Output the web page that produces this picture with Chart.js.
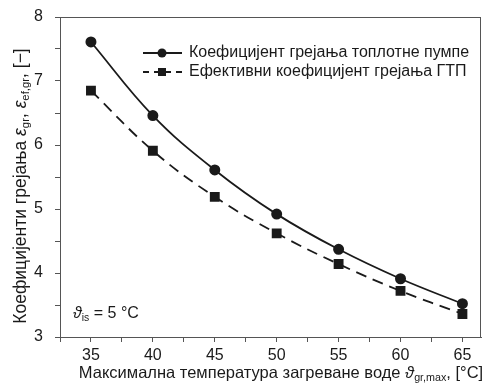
<!DOCTYPE html>
<html>
<head>
<meta charset="utf-8">
<script src="https://cdn.jsdelivr.net/npm/chart.js@4"></script>
<style>
    html, body { margin: 0; padding: 0; background: #fff; }
    #wrap { width: 490px; height: 389px; position: relative; }
</style>
</head>
<body>
<div id="wrap"><canvas id="copChart" width="490" height="389"></canvas></div>
<script>
// Podaci očitani sa slike
const temperatures = [35, 40, 45, 50, 55, 60, 65];
const heatPumpCop = [7.61, 6.46, 5.61, 4.92, 4.37, 3.91, 3.52];
const effectiveCop = [6.85, 5.91, 5.19, 4.62, 4.14, 3.72, 3.36];
const seriesLabels = ['Коефицијент грејања топлотне пумпе', 'Ефективни коефицијент грејања ГТП'];

const FONT = '"Liberation Sans", Arial, sans-serif';
const INK = '#1a1a1a';

// crta tekst sa indeksima (segmenti: t, it, sub)
function richWidth(ctx, parts, size) {
    let w = 0;
    parts.forEach(function (p) {
        const s = p.sub ? size * 0.65 : size;
        ctx.font = (p.it ? 'italic ' : '') + s + 'px ' + FONT;
        w += ctx.measureText(p.t).width;
    });
    return w;
}
function drawRich(ctx, parts, x, y, size) {
    parts.forEach(function (p) {
        const s = p.sub ? size * 0.65 : size;
        ctx.font = (p.it ? 'italic ' : '') + s + 'px ' + FONT;
        ctx.fillText(p.t, x, p.sub ? y + size * 0.28 : y);
        x += ctx.measureText(p.t).width;
    });
}

const xTitle = [
    { t: 'Максимална температура загреване воде ' },
    { t: 'ϑ', it: true },
    { t: 'gr,max', sub: true },
    { t: ', [°C]' },
];
const yTitle = [
    { t: 'Коефицијенти грејања ' },
    { t: 'ε', it: true },
    { t: 'gr', sub: true },
    { t: ', ' },
    { t: 'ε', it: true },
    { t: 'ef,gr', sub: true },
    { t: ', [−]' },
];
const note = [
    { t: 'ϑ', it: true },
    { t: 'is', sub: true },
    { t: ' = 5 °C' },
];

const decorPlugin = {
    id: 'decor',
    afterDraw: function (chart) {
        const ctx = chart.ctx;
        const a = chart.chartArea;
        ctx.save();
        // okvir
        ctx.strokeStyle = '#555';
        ctx.lineWidth = 1;
        ctx.strokeRect(a.left + 0.5, a.top + 0.5, a.right - a.left - 1, a.bottom - a.top);

        ctx.fillStyle = INK;
        ctx.textBaseline = 'middle';
        ctx.textAlign = 'left';

        // naslov x ose
        const xs = 16.5;
        const xw = richWidth(ctx, xTitle, xs);
        drawRich(ctx, xTitle, 281 - xw / 2, 373, xs);

        // naslov y ose
        const ys = 17.5;
        const yw = richWidth(ctx, yTitle, ys);
        ctx.save();
        ctx.translate(21, 186);
        ctx.rotate(-Math.PI / 2);
        drawRich(ctx, yTitle, -yw / 2, 0, ys);
        ctx.restore();

        // napomena
        drawRich(ctx, note, 73, 314, 16);

        // legenda
        const ds = chart.data.datasets;
        const rows = [53, 72];
        ds.forEach(function (d, i) {
            const y = rows[i];
            ctx.save();
            ctx.strokeStyle = d.borderColor;
            ctx.lineWidth = d.borderWidth;
            ctx.setLineDash(d.borderDash ? [6, 5] : []);
            ctx.beginPath();
            ctx.moveTo(143, y);
            ctx.lineTo(182, y);
            ctx.stroke();
            ctx.restore();
            ctx.fillStyle = INK;
            if (d.pointStyle === 'rect') {
                ctx.fillRect(158, y - 4, 8, 8);
            } else {
                ctx.beginPath();
                ctx.arc(162, y, 4.5, 0, Math.PI * 2);
                ctx.fill();
            }
            ctx.font = '16px ' + FONT;
            ctx.fillText(d.label, 189, y);
        });
        ctx.restore();
    },
};

new Chart(document.getElementById('copChart'), {
    type: 'line',
    data: {
        datasets: [
            {
                label: seriesLabels[0],
                data: temperatures.map(function (t, i) { return { x: t, y: heatPumpCop[i] }; }),
                borderColor: INK,
                backgroundColor: INK,
                borderWidth: 1.8,
                pointStyle: 'circle',
                pointRadius: 4.6,
                tension: 0.4,
            },
            {
                label: seriesLabels[1],
                data: temperatures.map(function (t, i) { return { x: t, y: effectiveCop[i] }; }),
                borderColor: INK,
                backgroundColor: INK,
                borderWidth: 1.8,
                borderDash: [11, 7],
                pointStyle: 'rect',
                pointRadius: 5.7,
                tension: 0.4,
            },
        ],
    },
    options: {
        responsive: false,
        animation: false,
        devicePixelRatio: 1,
        layout: { padding: { top: 17, right: 9, left: 0, bottom: 0 } },
        plugins: {
            legend: { display: false },
            tooltip: { enabled: false },
        },
        scales: {
            x: {
                type: 'linear',
                min: 32.5,
                max: 66.5,
                afterFit: function (scale) {
                    scale.height = 52;
                    scale.paddingLeft = 0;
                    scale.paddingRight = 0;
                },
                border: { color: '#555', width: 1 },
                grid: { drawOnChartArea: false, tickLength: 5, color: '#555' },
                ticks: {
                    stepSize: 2.5,
                    includeBounds: false,
                    autoSkip: false,
                    maxRotation: 0,
                    padding: 4,
                    color: INK,
                    font: { family: FONT, size: 16 },
                    callback: function (v) { return v % 5 === 0 ? String(v) : ''; },
                },
            },
            y: {
                min: 3,
                max: 8,
                afterFit: function (scale) {
                    scale.width = 60;
                    scale.paddingTop = 0;
                    scale.paddingBottom = 0;
                },
                border: { color: '#555', width: 1 },
                grid: { drawOnChartArea: false, tickLength: 5, color: '#555' },
                ticks: {
                    stepSize: 0.5,
                    autoSkip: false,
                    padding: 12,
                    color: INK,
                    font: { family: FONT, size: 16 },
                    callback: function (v) { return Number.isInteger(v) ? String(v) : ''; },
                },
            },
        },
    },
    plugins: [decorPlugin],
});
</script>
</body>
</html>
